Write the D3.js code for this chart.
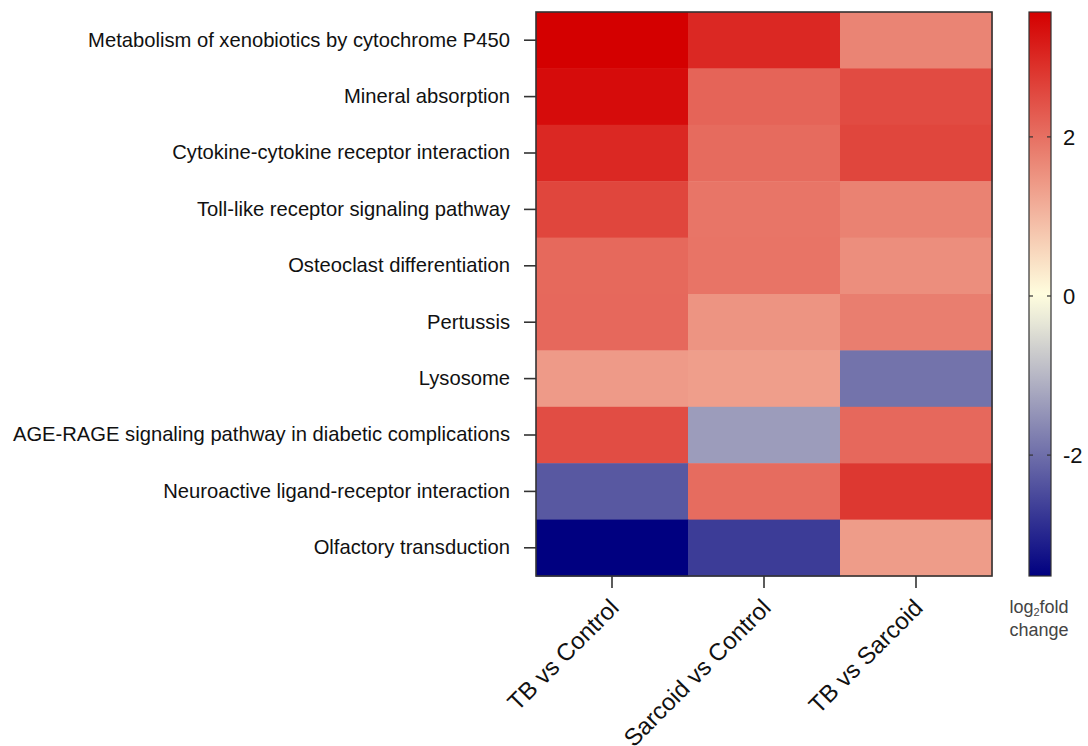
<!DOCTYPE html>
<html>
<head>
<meta charset="utf-8">
<script src="https://cdn.jsdelivr.net/npm/d3@7"></script>
<style>
  html, body { margin: 0; padding: 0; background: #fff; }
  svg { display: block; font-family: "Liberation Sans", Arial, sans-serif; }
</style>
</head>
<body>
<svg id="chart" width="1088" height="746"></svg>
<script>
// KEGG pathways (rows, top to bottom)
const pathways = [
  "Metabolism of xenobiotics by cytochrome P450",
  "Mineral absorption",
  "Cytokine-cytokine receptor interaction",
  "Toll-like receptor signaling pathway",
  "Osteoclast differentiation",
  "Pertussis",
  "Lysosome",
  "AGE-RAGE signaling pathway in diabetic complications",
  "Neuroactive ligand-receptor interaction",
  "Olfactory transduction"
];

// Comparisons (columns)
const comparisons = ["TB vs Control", "Sarcoid vs Control", "TB vs Sarcoid"];

// log2 fold change per comparison, in pathway order
const tbVsControl      = [3.57, 3.40, 3.01, 2.59, 2.10, 2.11, 1.41, 2.49, -2.31, -3.52];
const sarcoidVsControl = [3.01, 2.17, 2.07, 1.93, 1.95, 1.50, 1.36, -1.36, 2.06, -2.69];
const tbVsSarcoid      = [1.72, 2.52, 2.59, 1.75, 1.58, 1.80, -1.93, 2.11, 2.79, 1.38];

// Colour bar tick values
const legendTicks = [2, 0, -2];

const seriesValues = [tbVsControl, sarcoidVsControl, tbVsSarcoid];
const cells = [];
pathways.forEach((p, i) => {
  comparisons.forEach((c, j) => {
    cells.push({ pathway: p, comparison: c, value: seriesValues[j][i] });
  });
});

const svg = d3.select("#chart");

const plot = { left: 536, top: 12, right: 992, bottom: 576 };

const x = d3.scaleBand().domain(comparisons).range([plot.left, plot.right]).padding(0);
const y = d3.scaleBand().domain(pathways).range([plot.top, plot.bottom]).padding(0);

const vMin = d3.min(cells, d => d.value);
const vMax = d3.max(cells, d => d.value);
const color = d3.scaleLinear()
  .domain([vMin, 0, vMax])
  .range(["#000080", "#FFFFE0", "#D40000"])
  .interpolate(d3.interpolateRgb);

// Heatmap cells
svg.append("g")
  .selectAll("rect")
  .data(cells)
  .join("rect")
  .attr("x", d => x(d.comparison))
  .attr("y", d => y(d.pathway))
  .attr("width", x.bandwidth() + 0.5)
  .attr("height", y.bandwidth() + 0.5)
  .attr("fill", d => color(d.value));

// Frame
svg.append("rect")
  .attr("x", plot.left)
  .attr("y", plot.top)
  .attr("width", plot.right - plot.left)
  .attr("height", plot.bottom - plot.top)
  .attr("fill", "none")
  .attr("stroke", "#333")
  .attr("stroke-width", 1.6);

// Row axis
const yAxis = svg.append("g")
  .attr("transform", `translate(${plot.left},0)`)
  .call(d3.axisLeft(y).tickSize(12).tickPadding(14));
yAxis.select(".domain").remove();
yAxis.selectAll(".tick line").attr("stroke", "#333").attr("stroke-width", 1.6);
yAxis.selectAll(".tick text")
  .attr("fill", "#111")
  .style("font-size", "20.2px")
  .style("font-family", "'Liberation Sans', Arial, sans-serif");

// Column axis
const xAxis = svg.append("g")
  .attr("transform", `translate(0,${plot.bottom})`)
  .call(d3.axisBottom(x).tickSize(12).tickPadding(4));
xAxis.select(".domain").remove();
xAxis.selectAll(".tick line").attr("stroke", "#333").attr("stroke-width", 1.6);
xAxis.selectAll(".tick text")
  .attr("fill", "#111")
  .style("font-size", "24px")
  .style("font-family", "'Liberation Sans', Arial, sans-serif")
  .attr("text-anchor", "end")
  .attr("dy", "0")
  .attr("transform", "translate(-3,22) rotate(-45)");

// Colour bar
const bar = { x: 1029, w: 22, top: 12, bottom: 576 };
const legendScale = d3.scaleLinear().domain([vMin, vMax]).range([bar.bottom, bar.top]);

const defs = svg.append("defs");
const grad = defs.append("linearGradient")
  .attr("id", "lfc-gradient")
  .attr("x1", 0).attr("y1", 1).attr("x2", 0).attr("y2", 0);
d3.range(0, 1.0001, 0.05).forEach(t => {
  const v = vMin + t * (vMax - vMin);
  grad.append("stop").attr("offset", t).attr("stop-color", color(v));
});

svg.append("rect")
  .attr("x", bar.x).attr("y", bar.top)
  .attr("width", bar.w).attr("height", bar.bottom - bar.top)
  .attr("fill", "url(#lfc-gradient)")
  .attr("stroke", "#333").attr("stroke-width", 1.2);

const lt = svg.append("g");
legendTicks.forEach(v => {
  const yy = legendScale(v);
  lt.append("line").attr("x1", bar.x).attr("x2", bar.x + 4).attr("y1", yy).attr("y2", yy)
    .attr("stroke", "#333").attr("stroke-width", 1.2);
  lt.append("line").attr("x1", bar.x + bar.w - 4).attr("x2", bar.x + bar.w).attr("y1", yy).attr("y2", yy)
    .attr("stroke", "#333").attr("stroke-width", 1.2);
  lt.append("text")
    .attr("x", bar.x + 34).attr("y", yy)
    .attr("dy", "0.36em")
    .attr("fill", "#111")
    .style("font-size", "22px")
    .text(v);
});

// Colour bar title
const title = svg.append("text")
  .attr("x", 1039).attr("y", 613)
  .attr("text-anchor", "middle")
  .attr("fill", "#444")
  .style("font-size", "18px");
title.append("tspan").text("log");
title.append("tspan").attr("dy", 3).style("font-size", "11px").text("2");
title.append("tspan").attr("dy", -3).text("fold");
svg.append("text")
  .attr("x", 1039).attr("y", 636)
  .attr("text-anchor", "middle")
  .attr("fill", "#444")
  .style("font-size", "18px")
  .text("change");
</script>
</body>
</html>
